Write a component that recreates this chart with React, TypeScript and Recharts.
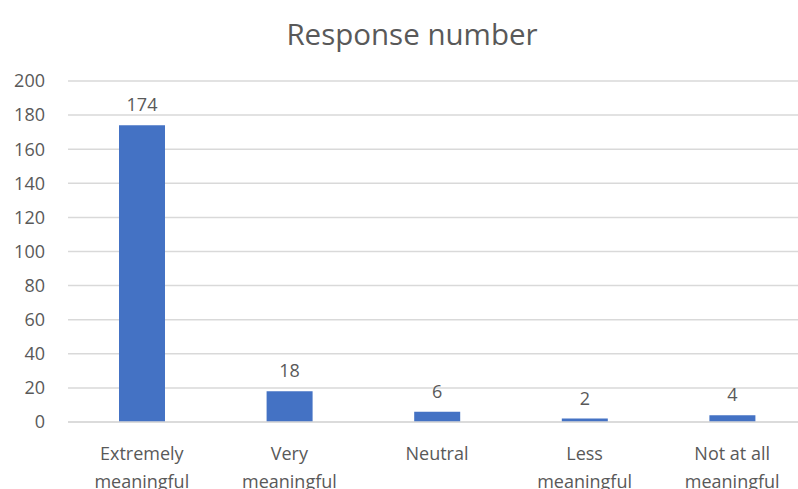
import { Bar, BarChart, CartesianGrid, LabelList, XAxis, YAxis } from 'recharts'

const categories = ['Extremely\nmeaningful', 'Very\nmeaningful', 'Neutral', 'Less\nmeaningful', 'Not at all\nmeaningful']
const responses = [174, 18, 6, 2, 4]
const yTicks = [0, 20, 40, 60, 80, 100, 120, 140, 160, 180, 200]

const TEXT_COLOR = '#595959'
const GRID_COLOR = '#d9d9d9'
const BAR_COLOR = '#4472c4'
const FONT = '"Open Sans", "Noto Sans", sans-serif'

const data = categories.map((name, i) => ({ name, value: responses[i] }))

/** Category tick, split on '\n' into stacked lines. */
function CategoryTick({ x, y, payload }: any) {
  const lines = String(payload.value).split('\n')
  return (
    <text
      x={x}
      y={y}
      textAnchor='middle'
      fill={TEXT_COLOR}
      fontSize={18}
      fontFamily={FONT}
    >
      {lines.map((line, i) => (
        <tspan key={i} x={x} dy={i === 0 ? 30 : 28}>
          {line}
        </tspan>
      ))}
    </text>
  )
}

export default function App() {
  return (
    <div
      style={{
        position: 'fixed',
        left: 0,
        top: 0,
        width: 798,
        height: 489,
        overflow: 'hidden',
        background: '#ffffff'
      }}
    >
      <div
        style={{
          position: 'absolute',
          left: 262,
          top: 14,
          width: 300,
          textAlign: 'center',
          fontFamily: FONT,
          fontSize: 29.5,
          lineHeight: '40px',
          color: TEXT_COLOR
        }}
      >
        Response number
      </div>
      <BarChart
        width={830}
        height={520}
        data={data}
        margin={{ top: 81, right: 24, left: 0, bottom: 8 }}
        barSize={46}
      >
        <CartesianGrid vertical={false} stroke={GRID_COLOR} strokeWidth={1.5} />
        <XAxis
          dataKey='name'
          height={90}
          tickLine={false}
          axisLine={{ stroke: GRID_COLOR, strokeWidth: 1.5 }}
          tick={<CategoryTick />}
          interval={0}
        />
        <YAxis
          width={68}
          domain={[0, 200]}
          ticks={yTicks}
          tickLine={false}
          axisLine={false}
          tickMargin={17}
          tick={{ fill: TEXT_COLOR, fontSize: 18, fontFamily: FONT }}
        />
        <Bar dataKey='value' fill={BAR_COLOR} isAnimationActive={false}>
          <LabelList
            dataKey='value'
            position='top'
            offset={14}
            fill={TEXT_COLOR}
            fontSize={18}
            fontFamily={FONT}
          />
        </Bar>
      </BarChart>
    </div>
  )
}
